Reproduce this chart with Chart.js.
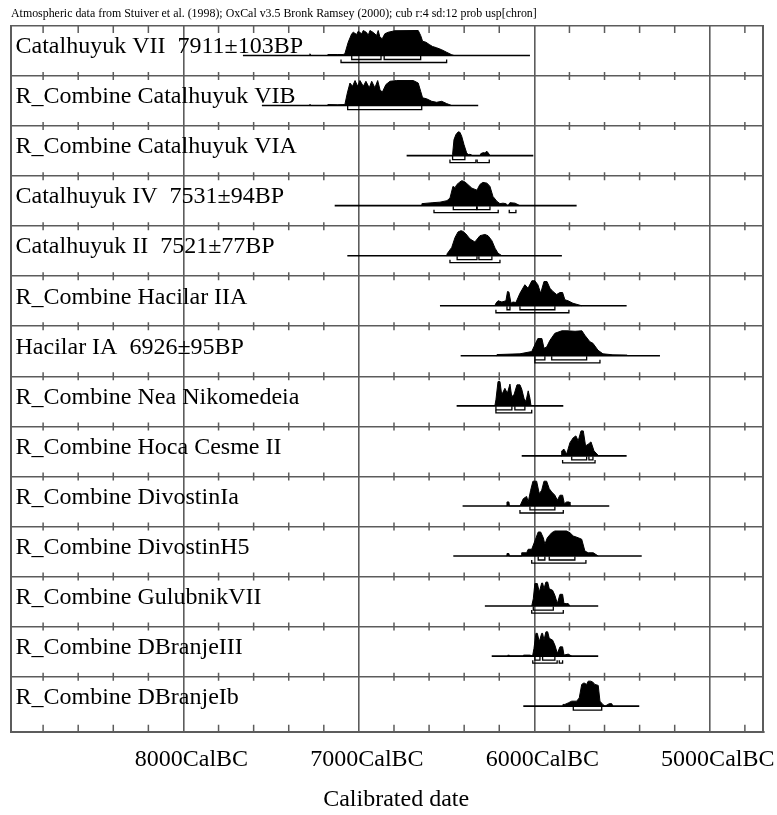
<!DOCTYPE html>
<html>
<head>
<meta charset="utf-8">
<script src="https://cdn.jsdelivr.net/npm/chart.js@4.4.1/dist/chart.umd.min.js"></script>
<style>
  html, body { margin: 0; padding: 0; background: #fff; }
  #wrap { position: relative; width: 777px; height: 815px; }
</style>
</head>
<body>
<div id="wrap"><canvas id="chart"></canvas></div>
<script>
// Sample names, top row first
const labels = [
  'Catalhuyuk VII  7911\u00b1103BP',
  'R_Combine Catalhuyuk VIB',
  'R_Combine Catalhuyuk VIA',
  'Catalhuyuk IV  7531\u00b194BP',
  'Catalhuyuk II  7521\u00b177BP',
  'R_Combine Hacilar IIA',
  'Hacilar IA  6926\u00b195BP',
  'R_Combine Nea Nikomedeia',
  'R_Combine Hoca Cesme II',
  'R_Combine DivostinIa',
  'R_Combine DivostinH5',
  'R_Combine GulubnikVII',
  'R_Combine DBranjeIII',
  'R_Combine DBranjeIb'
];

// Probability distributions: [year CalBC, relative height]
const distCatVII = [[7282,0],[7279,0.07],[7275,0],[7180,0],[7177,0.04],[7120,0.04],[7090,0.04],
  [7080,0.07],[7061,0.53],[7041,0.87],[7032,0.93],[7013,0.84],[7004,0.97],[6984,0.87],[6975,1.0],
  [6956,0.92],[6947,0.8],[6937,1.0],[6918,0.92],[6899,0.8],[6890,1.0],[6880,0.73],[6867,0.67],
  [6852,0.87],[6833,0.93],[6795,0.99],[6662,1.0],[6648,0.8],[6637,0.57],[6618,0.53],[6599,0.44],
  [6580,0.36],[6557,0.31],[6528,0.23],[6500,0.13],[6471,0.03],[6458,0]];
const distCatVIB = [[7282,0],[7279,0.05],[7275,0],[7180,0],[7177,0.04],[7120,0.03],[7091,0.04],
  [7080,0.04],[7066,0.5],[7051,0.9],[7036,0.77],[7022,1.0],[7007,0.77],[6994,1.0],[6975,0.77],
  [6960,0.97],[6941,0.71],[6927,0.97],[6909,0.71],[6893,1.0],[6880,0.64],[6867,0.53],[6846,0.84],
  [6823,0.97],[6785,1.0],[6690,1.0],[6662,0.9],[6648,0.57],[6637,0.31],[6614,0.27],[6585,0.17],
  [6557,0.13],[6528,0.17],[6500,0.08],[6471,0]];
const distCatVIA = [[6468,0],[6466,0.05],[6458,0.64],[6447,0.84],[6434,0.95],[6424,0.93],[6414,0.77],
  [6401,0.44],[6386,0.11],[6377,0.04],[6370,0.05],[6360,0.04],[6355,0],[6310,0],[6305,0.08],
  [6290,0.12],[6280,0.1],[6272,0.18],[6262,0.1],[6253,0]];
const distCatIV = [[6642,0],[6641,0.08],[6578,0.12],[6538,0.14],[6498,0.2],[6481,0.3],[6464,0.77],
  [6452,0.72],[6441,0.85],[6424,0.95],[6413,1.0],[6396,0.95],[6378,0.84],[6356,0.7],[6327,0.62],
  [6310,0.85],[6293,0.93],[6270,0.9],[6253,0.77],[6236,0.37],[6213,0.17],[6196,0.08],[6179,0.1],
  [6162,0.08],[6150,0],[6139,0.12],[6110,0.1],[6082,0]];
const distCatII = [[6500,0],[6498,0.07],[6471,0.33],[6452,0.73],[6435,0.95],[6418,1.0],[6406,0.97],
  [6390,0.87],[6367,0.67],[6339,0.55],[6310,0.8],[6282,0.85],[6264,0.8],[6242,0.6],[6224,0.3],
  [6207,0.1],[6185,0]];
const distHacIIA = [[6225,0],[6219,0.1],[6207,0.2],[6185,0.15],[6162,0.2],[6153,0.57],[6145,0.55],
  [6133,0.1],[6122,0.15],[6105,0.13],[6082,0.5],[6054,0.84],[6036,0.7],[6014,1.0],[5997,1.0],
  [5980,0.84],[5964,0.5],[5945,0.97],[5928,0.97],[5911,0.7],[5894,0.57],[5873,0.45],[5854,0.53],
  [5839,0.53],[5826,0.24],[5808,0.2],[5780,0.1],[5730,0]];
const distHacIA = [[6215,0],[6213,0.05],[6082,0.08],[6015,0.17],[5997,0.44],[5980,0.69],[5957,0.69],
  [5945,0.3],[5930,0.35],[5911,0.62],[5883,0.9],[5843,1.0],[5814,1.0],[5768,0.98],[5729,1.0],
  [5712,0.82],[5683,0.56],[5666,0.5],[5637,0.22],[5609,0.08],[5552,0.04],[5472,0.03],[5466,0]];
const distNea = [[6225,0],[6219,0.24],[6207,0.97],[6196,0.97],[6186,0.44],[6168,0.7],[6154,0.5],
  [6139,0.87],[6129,0.37],[6116,0.44],[6099,0.84],[6082,0.84],[6072,0.67],[6059,0.3],[6048,0.17],
  [6035,0.6],[6025,0.3],[6019,0]];
const distHoca = [[5848,0],[5844,0.2],[5831,0.27],[5816,0.07],[5797,0.53],[5778,0.73],[5763,0.8],
  [5750,0.6],[5734,1.0],[5721,1.0],[5708,0.4],[5693,0.47],[5677,0.56],[5660,0.2],[5637,0.03],[5632,0]];
const distDivIa = [[6158,0],[6156,0.16],[6145,0.16],[6142,0],[6082,0],[6063,0.29],[6044,0.38],
  [6035,0.16],[6021,0.63],[6008,0.99],[5987,0.99],[5972,0.49],[5958,0.63],[5945,0.99],[5930,0.99],
  [5915,0.69],[5901,0.56],[5883,0.43],[5869,0.23],[5854,0.43],[5839,0.43],[5829,0.09],[5816,0.16],
  [5801,0.16],[5797,0]];
const distDivH5 = [[6158,0],[6156,0.1],[6145,0.1],[6142,0],[6076,0],[6072,0.13],[6044,0.13],
  [6035,0.27],[6015,0.27],[5997,0.6],[5978,0.96],[5964,0.96],[5949,0.73],[5940,0.47],[5926,0.73],
  [5901,0.93],[5883,1.0],[5816,1.0],[5797,0.93],[5778,0.8],[5750,0.73],[5730,0.67],[5712,0.2],
  [5693,0.13],[5664,0.13],[5636,0]];
const distGulVII = [[6015,0],[6006,0.29],[5997,0.9],[5983,0.9],[5972,0.56],[5958,0.92],[5953,0.92],
  [5945,0.69],[5934,0.96],[5924,0.96],[5915,0.69],[5896,0.63],[5883,0.43],[5869,0.1],[5854,0.47],
  [5839,0.47],[5831,0.1],[5816,0.1],[5807,0.1],[5797,0]];
const distDBrIII = [[6152,0],[6149,0.05],[6145,0],[6063,0],[6062,0.04],[6025,0.04],[6010,0],
  [6002,0.31],[5991,0.91],[5983,0.91],[5972,0.58],[5958,0.91],[5953,0.91],[5945,0.64],[5934,0.97],
  [5924,0.97],[5915,0.71],[5896,0.64],[5883,0.44],[5869,0.11],[5854,0.37],[5839,0.37],[5831,0.04],
  [5807,0.08],[5787,0]];
const distDBrIb = [[5839,0],[5837,0.07],[5826,0.07],[5807,0.13],[5787,0.2],[5759,0.2],[5744,0.33],
  [5730,0.87],[5717,0.93],[5702,0.87],[5693,1.0],[5679,1.0],[5668,0.97],[5655,0.87],[5636,0.83],
  [5626,0.2],[5610,0.07],[5597,0],[5573,0.1],[5559,0.1],[5552,0]];

const distributions = [distCatVII, distCatVIB, distCatVIA, distCatIV, distCatII, distHacIIA, distHacIA,
  distNea, distHoca, distDivIa, distDivH5, distGulVII, distDBrIII, distDBrIb];

// Horizontal line under each distribution [from, to] CalBC
const rangeLines = [[7661,6025],[7553,6320],[6728,6006],[7138,5759],[7066,5843],[6538,5474],[6420,5284],
  [6443,5835],[6072,5474],[6409,5573],[6462,5388],[6282,5636],[6243,5636],[6063,5402]];

// 68.2% ranges (upper brackets)
const sigma1 = [
  [[7041,6874],[6856,6648]], [[7064,6642]], [[6466,6396]], [[6462,6329],[6326,6253]],
  [[6440,6327],[6316,6242]], [[6156,6139],[6082,5883]], [[5997,5940],[5901,5702]],
  [[6219,6128],[6111,6054]], [[5787,5702],[5689,5666]], [[6025,5883]],
  [[5978,5940],[5915,5769]], [[6006,5892]], [[5997,5968],[5953,5883]], [[5778,5616]]
];
// 95.4% ranges (lower brackets)
const sigma2 = [
  [[7102,6500]], [], [[6481,6333],[6326,6257]], [[6572,6206],[6143,6105]],
  [[6481,6196]], [[6219,5803]], [[5997,5626]], [[6219,6015]], [[5839,5654]], [[6082,5835]],
  [[6015,5706]], [[6015,5835]], [[6009,5870],[5858,5839]], []
];

const majorTicks = [8000, 7000, 6000, 5000];
const minorTicks = [8800, 8600, 8400, 8200, 7800, 7600, 7400, 7200, 6800, 6600, 6400, 6200,
  5800, 5600, 5400, 5200, 4800];

const X_MIN = 4695, X_MAX = 8983;
const Y_MAX = 14.1;          // last row is a little taller
const ROW_BASE = 0.59;       // baseline of distribution inside its row
const LABEL_BASE = 0.545;    // text baseline inside its row
const PEAK = 0.5;            // full height of a distribution
const GRID = '#5c5c5c';
const SERIF = '"Liberation Serif", "Times New Roman", serif';

const datasets = [];

distributions.forEach((d, i) => {
  const base = i + ROW_BASE;
  datasets.push({
    data: d.map(([yr, h]) => ({ x: yr, y: base - h * PEAK })),
    borderColor: '#000', backgroundColor: '#000', borderWidth: 1,
    fill: { value: base }, pointRadius: 0, tension: 0
  });
});

rangeLines.forEach(([a, b], i) => {
  const base = i + ROW_BASE;
  datasets.push({
    data: [{ x: a, y: base }, { x: b, y: base }],
    borderColor: '#000', borderWidth: 1.6, pointRadius: 0, fill: false
  });
});

function bracket(a, b, top, bottom) {
  return {
    data: [{ x: a, y: top }, { x: a, y: bottom }, { x: b, y: bottom }, { x: b, y: top }],
    borderColor: '#000', borderWidth: 1.3, pointRadius: 0, fill: false
  };
}
sigma1.forEach((ranges, i) => ranges.forEach(([a, b]) =>
  datasets.push(bracket(a, b, i + ROW_BASE + 0.01, i + ROW_BASE + 0.08))));
sigma2.forEach((ranges, i) => ranges.forEach(([a, b]) =>
  datasets.push(bracket(a, b, i + ROW_BASE + 0.08, i + ROW_BASE + 0.14))));

// small axis ticks repeated on every row boundary
const innerTicks = [];
for (let r = 1; r < labels.length; r++) minorTicks.forEach(t => innerTicks.push({ x: t, y: r }));
const tickStyle = { showLine: false, pointBorderColor: GRID, pointBackgroundColor: GRID, pointBorderWidth: 1.5 };
datasets.push({ ...tickStyle, data: innerTicks, pointStyle: 'line', pointRotation: 90, pointRadius: 4 });
datasets.push({ ...tickStyle, data: minorTicks.map(t => ({ x: t, y: 0 })), pointStyle: 'dash', pointRotation: 90, pointRadius: 7 });
datasets.push({ ...tickStyle, data: minorTicks.map(t => ({ x: t, y: Y_MAX })), pointStyle: 'dash', pointRotation: -90, pointRadius: 7 });

const rowLabels = {
  id: 'rowLabels',
  afterDatasetsDraw(chart) {
    const { ctx, chartArea, scales } = chart;
    ctx.save();
    ctx.font = '24px ' + SERIF;
    ctx.fillStyle = '#000';
    ctx.textAlign = 'left';
    ctx.textBaseline = 'alphabetic';
    labels.forEach((t, i) => ctx.fillText(t, chartArea.left + 4.5, scales.y.getPixelForValue(i + LABEL_BASE)));
    ctx.restore();
  }
};

Chart.defaults.font.family = SERIF;
Chart.defaults.color = '#000';

new Chart(document.getElementById('chart'), {
  type: 'line',
  data: { datasets },
  plugins: [rowLabels],
  options: {
    responsive: true,
    maintainAspectRatio: false,
    animation: false,
    events: [],
    layout: { padding: { left: 11, right: 13.7, top: 0, bottom: 0 } },
    plugins: {
      legend: { display: false },
      tooltip: { enabled: false },
      title: {
        display: true,
        align: 'start',
        text: 'Atmospheric data from Stuiver et al. (1998); OxCal v3.5 Bronk Ramsey (2000); cub r:4 sd:12 prob usp[chron]',
        font: { size: 11.9, weight: 'normal', family: SERIF },
        color: '#000',
        padding: { top: 6.3, bottom: 5.4 }
      }
    },
    scales: {
      x: {
        type: 'linear',
        reverse: true,
        min: X_MIN,
        max: X_MAX,
        afterBuildTicks: axis => { axis.ticks = majorTicks.map(v => ({ value: v })); },
        afterFit: axis => {
          axis.height = 83.3;
          axis.paddingLeft = 0;
          axis.paddingRight = 0;
        },
        grid: { color: GRID, lineWidth: 1.6, drawTicks: false },
        border: { display: true, color: GRID, width: 2 },
        ticks: {
          autoSkip: false, maxRotation: 0, padding: 13.6, labelOffset: 8,
          font: { size: 24, family: SERIF }, color: '#000',
          callback: v => v + 'CalBC'
        },
        title: {
          display: true, text: '   Calibrated date', color: '#000',
          font: { size: 24, family: SERIF }, padding: { top: 0, bottom: 1 }
        }
      },
      y: {
        type: 'linear',
        reverse: true,
        min: 0,
        max: Y_MAX,
        afterBuildTicks: axis => {
          axis.ticks = labels.map((_, i) => ({ value: i })).concat([{ value: Y_MAX }]);
        },
        afterFit: axis => { axis.width = 0; axis.paddingTop = 0; axis.paddingBottom = 0; },
        grid: { color: GRID, lineWidth: 1.6, drawTicks: false },
        border: { display: true, color: GRID, width: 2 },
        ticks: { display: false }
      },
      y2: {
        type: 'linear',
        position: 'right',
        afterFit: axis => { axis.width = 0; axis.paddingTop = 0; axis.paddingBottom = 0; },
        grid: { display: false, drawTicks: false },
        border: { display: true, color: GRID, width: 2 },
        ticks: { display: false }
      }
    }
  }
});
</script>
</body>
</html>
